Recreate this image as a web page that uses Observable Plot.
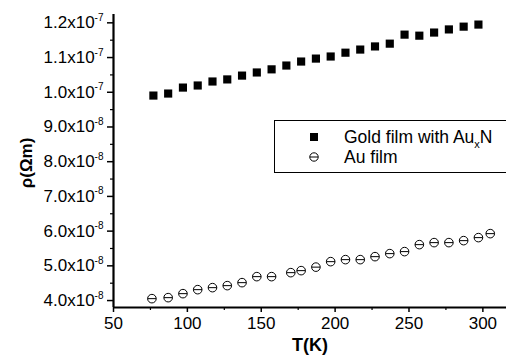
<!DOCTYPE html>
<html>
<head>
<meta charset="utf-8">
<script src="https://cdn.jsdelivr.net/npm/d3@7"></script>
<script src="https://cdn.jsdelivr.net/npm/@observablehq/plot@0.6"></script>
<style>
  html, body { margin: 0; padding: 0; background: #fff; }
  #wrap { position: relative; width: 506px; height: 355px; overflow: hidden; font-family: "Liberation Sans", Arial, Helvetica, sans-serif; }
  #wrap svg { display: block; }
  #legend { position: absolute; left: 274px; top: 120px; width: 260px; height: 53px; border: 1.2px solid #000; background: #fff; box-sizing: border-box; font-size: 17.5px; color: #000; }
  .row { position: absolute; left: 0; height: 20px; line-height: 20px; white-space: nowrap; }
  .row svg { position: absolute; left: 33px; top: 4px; }
  .row span.t { position: absolute; left: 69px; top: 0; }
  sub { font-size: 11px; vertical-align: -5px; line-height: 0; }
</style>
</head>
<body>
<div id="wrap"></div>
<script>
// Temperature (K) and resistivity (Ω·m)
const goldT = [77, 87, 97, 107, 117, 127, 137, 147, 157, 167, 177, 187, 197, 207, 217, 227, 237, 247, 257, 267, 277, 287, 297];
const goldRho = [9.905e-8, 9.963e-8, 10.135e-8, 10.195e-8, 10.31e-8, 10.37e-8, 10.48e-8, 10.57e-8, 10.66e-8, 10.77e-8, 10.885e-8, 10.97e-8, 11.03e-8, 11.14e-8, 11.23e-8, 11.32e-8, 11.40e-8, 11.66e-8, 11.63e-8, 11.72e-8, 11.81e-8, 11.89e-8, 11.95e-8];

const auT = [76, 87, 97, 107, 117, 127, 137, 147, 157, 170, 177, 187, 197, 207, 217, 227, 237, 247, 257, 267, 277, 287, 297, 305];
const auRho = [4.055e-8, 4.084e-8, 4.199e-8, 4.314e-8, 4.372e-8, 4.43e-8, 4.516e-8, 4.689e-8, 4.689e-8, 4.804e-8, 4.862e-8, 4.963e-8, 5.121e-8, 5.179e-8, 5.179e-8, 5.265e-8, 5.352e-8, 5.41e-8, 5.611e-8, 5.669e-8, 5.669e-8, 5.726e-8, 5.813e-8, 5.928e-8];

const xTicks = [50, 100, 150, 200, 250, 300];
const xMinorTicks = [75, 125, 175, 225, 275];
const yTicks = [4e-8, 5e-8, 6e-8, 7e-8, 8e-8, 9e-8, 1.0e-7, 1.1e-7, 1.2e-7];
const yMinorTicks = [4.5e-8, 5.5e-8, 6.5e-8, 7.5e-8, 8.5e-8, 9.5e-8, 1.05e-7, 1.15e-7];

const seriesNames = ["Gold film with Au_xN", "Au film"];

const gold = goldT.map((t, i) => ({T: t, rho: goldRho[i]}));
const au = auT.map((t, i) => ({T: t, rho: auRho[i]}));

// circle with a horizontal bar (⊖)
const thetaSymbol = {
  draw(context, size) {
    const r = Math.sqrt(size / Math.PI);
    context.moveTo(r, 0);
    context.arc(0, 0, r, 0, 2 * Math.PI);
    context.moveTo(-r, 0);
    context.lineTo(r, 0);
  }
};

function sciLabel(v) {
  const e = Math.floor(Math.log10(v) + 1e-9);
  const m = v / Math.pow(10, e);
  return m.toFixed(1) + "x10^" + e;
}

const FONT = '"Liberation Sans", Arial, Helvetica, sans-serif';

const chart = Plot.plot({
  width: 506,
  height: 355,
  marginLeft: 113,
  marginRight: 0,
  marginTop: 14,
  marginBottom: 48,
  style: { fontFamily: FONT, fontSize: "17px", color: "#000", background: "#fff" },
  x: { domain: [50, 316] },
  y: { domain: [3.8e-8, 1.224e-7] },
  marks: [
    Plot.axisX(xTicks, { tickSize: 5, tickPadding: 4, strokeWidth: 1.5, tickFormat: d => String(d), label: "T(K)", labelAnchor: "center", labelOffset: 43, labelArrow: "none" }),
    Plot.axisX(xMinorTicks, { tickSize: 3, strokeWidth: 1.2, tickFormat: () => "", label: null }),
    Plot.axisY(yTicks, { tickSize: 6, tickPadding: 4, strokeWidth: 1.5, tickFormat: sciLabel, label: "ρ(Ωm)", labelAnchor: "center", labelOffset: 94, labelArrow: "none" }),
    Plot.axisY(yMinorTicks, { tickSize: 3, strokeWidth: 1.2, tickFormat: () => "", label: null }),
    Plot.ruleX([50], { strokeWidth: 2.2, stroke: "#000" }),
    Plot.ruleY([3.8e-8], { strokeWidth: 2.2, stroke: "#000" }),
    Plot.dot(gold, { x: "T", y: "rho", symbol: "square", r: 4.6, fill: "#000", stroke: "none" }),
    Plot.dot(au, { x: "T", y: "rho", symbol: thetaSymbol, r: 4.3, fill: "#fff", stroke: "#000", strokeWidth: 1 })
  ]
});

// axis title styling
chart.querySelectorAll('g[aria-label="x-axis label"] text').forEach(t => {
  t.style.fontSize = "18px";
  t.style.fontWeight = "bold";
});
chart.querySelectorAll('g[aria-label="y-axis label"] text').forEach(t => {
  t.style.fontSize = "17px";
  t.style.fontWeight = "bold";
  t.setAttribute("dx", "-2"); // rotated frame: negative dx moves down
});

// render superscript exponents for y tick labels
chart.querySelectorAll('g[aria-label="y-axis tick label"] text').forEach(t => {
  const s = t.textContent;
  const k = s.indexOf("^");
  if (k < 0) return;
  t.textContent = s.slice(0, k);
  const sup = document.createElementNS("http://www.w3.org/2000/svg", "tspan");
  sup.style.fontSize = "10px";
  sup.setAttribute("dy", "-0.75em");
  sup.textContent = s.slice(k + 1);
  t.appendChild(sup);
});

const wrap = document.getElementById("wrap");
wrap.appendChild(chart);

// legend
const legend = document.createElement("div");
legend.id = "legend";
const parts0 = seriesNames[0].split("_");
const sub = parts0[1];
legend.innerHTML =
  '<div class="row" style="top:6px"><svg width="12" height="12"><rect x="2" y="2" width="8" height="8" fill="#000"/></svg>' +
  '<span class="t">' + parts0[0] + '<sub>' + sub.slice(0, 1) + '</sub>' + sub.slice(1) + '</span></div>' +
  '<div class="row" style="top:26px"><svg width="12" height="12"><circle cx="6" cy="6" r="4.2" fill="#fff" stroke="#000"/><line x1="1.8" x2="10.2" y1="6" y2="6" stroke="#000"/></svg>' +
  '<span class="t">' + seriesNames[1] + '</span></div>';
wrap.appendChild(legend);
</script>
</body>
</html>
